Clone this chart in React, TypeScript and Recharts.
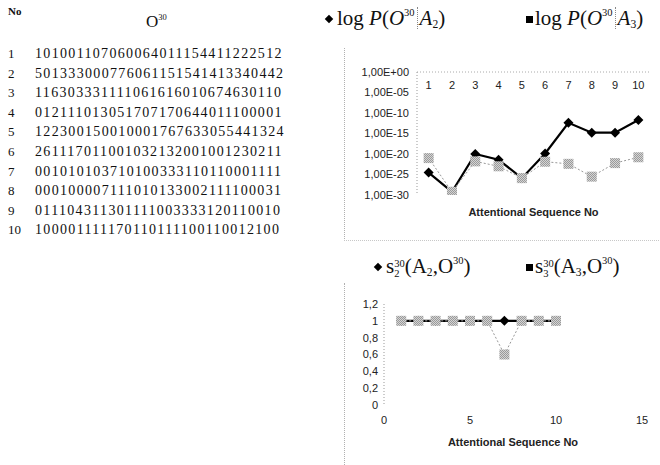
import React from 'react';
import { LineChart, Line, XAxis, YAxis } from 'recharts';

// observation sequences (left table)
const rowNo = [1, 2, 3, 4, 5, 6, 7, 8, 9, 10];
const observations = [
  '101001107060064011154411222512',
  '501333000776061151541413340442',
  '116303331111061616010674630110',
  '012111013051707170644011100001',
  '122300150010001767633055441324',
  '261117011001032132001001230211',
  '001010103710100333110110001111',
  '000100007111010133002111100031',
  '011104311301111003333120110010',
  '100001111170110111100110012100',
];

// top chart: P(O^30 | A2), P(O^30 | A3)
const seqNo = [1, 2, 3, 4, 5, 6, 7, 8, 9, 10];
const probA2 = [3e-25, 6e-30, 1e-20, 4e-22, 1.3e-26, 1.3e-20, 4e-13, 1.6e-15, 1.6e-15, 2e-12];
const probA3 = [1e-21, 6e-30, 1.6e-22, 1e-23, 1.3e-26, 1.3e-22, 4e-23, 3e-26, 6e-23, 1.6e-21];
const logTicks = [1, 1e-5, 1e-10, 1e-15, 1e-20, 1e-25, 1e-30];

// bottom chart: s2(A2,O^30), s3(A3,O^30)
const sA2 = [1, 1, 1, 1, 1, 1, 1, 1, 1, 1];
const sA3 = [1, 1, 1, 1, 1, 1, 0.6, 1, 1, 1];
const sTicks = [0, 0.2, 0.4, 0.6, 0.8, 1, 1.2];
const xTicks = [0, 5, 10, 15];

const probData = seqNo.map((n, i) => ({ n, a2: probA2[i], a3: probA3[i] }));
const sData = seqNo.map((n, i) => ({ n, a2: sA2[i], a3: sA3[i] }));

const axisFont = { fontFamily: 'Liberation Sans, Arial, sans-serif', fontSize: 11, fill: '#222' };
const serif = '"Liberation Serif", "Times New Roman", serif';

const fmtExp = (v: number) => {
  const e = Math.round(Math.log10(v));
  const sign = e >= 0 ? '+' : '-';
  return `1,00E${sign}${String(Math.abs(e)).padStart(2, '0')}`;
};

const Diamond = (props: any) => {
  const { cx, cy, index } = props;
  if (cx == null || cy == null) return <g key={`d${index}`} />;
  return (
    <polygon
      key={`d${index}`}
      points={`${cx},${cy - 5} ${cx + 5},${cy} ${cx},${cy + 5} ${cx - 5},${cy}`}
      fill="#000"
    />
  );
};

const makeSquare = (pid: string) => (props: any) => {
  const { cx, cy, index } = props;
  if (cx == null || cy == null) return <g key={`s${index}`} />;
  return <rect key={`s${index}`} x={cx - 5} y={cy - 5} width={10} height={10} fill={`url(#${pid})`} />;
};

const Checker = ({ id }: { id: string }) => (
  <defs>
    <pattern id={id} width={2} height={2} patternUnits="userSpaceOnUse">
      <rect width={2} height={2} fill="#d4d4d4" />
      <rect width={1} height={1} fill="#9a9a9a" />
      <rect x={1} y={1} width={1} height={1} fill="#9a9a9a" />
    </pattern>
  </defs>
);

const Sup = ({ t }: { t: string }) => (
  <span style={{ fontSize: '0.5em', verticalAlign: '0.85em', fontStyle: 'normal' }}>{t}</span>
);
const Sub = ({ t }: { t: string }) => (
  <span style={{ fontSize: '0.55em', verticalAlign: '-0.3em', fontStyle: 'normal' }}>{t}</span>
);
const Stack = ({ top, bottom }: { top: string; bottom: string }) => (
  <span style={{ display: 'inline-block', verticalAlign: '-0.35em', fontSize: '0.5em', lineHeight: '0.95em', textAlign: 'left' }}>
    <span style={{ display: 'block' }}>{top}</span>
    <span style={{ display: 'block' }}>{bottom}</span>
  </span>
);
const Bar = () => (
  <span style={{ display: 'inline-block', width: 0, height: '1.05em', borderLeft: '1px dotted #888', margin: '0 2px', verticalAlign: '-0.2em' }} />
);

const ProbLabel = ({ a }: { a: string }) => (
  <span>
    log <i>P</i>(<i>O</i>
    <Sup t="30" />
    <Bar />
    <i>A</i>
    <Sub t={a} />)
  </span>
);

const SLabel = ({ k }: { k: string }) => (
  <span>
    s<Stack top="30" bottom={k} />(A<Sub t={k} />,O<Sup t="30" />)
  </span>
);

const markDiamond = (
  <span style={{ display: 'inline-block', width: 6, height: 6, background: '#000', transform: 'rotate(45deg)', marginRight: 5, verticalAlign: '0.15em' }} />
);
const markSquare = (
  <span style={{ display: 'inline-block', width: 7, height: 7, background: '#000', marginRight: 2, verticalAlign: '0.1em' }} />
);

export default function App() {
  return (
    <div style={{ position: 'fixed', left: 0, top: 0, width: 660, height: 465, background: '#fff', overflow: 'hidden', color: '#111' }}>
      {/* table of observation sequences */}
      <div style={{ position: 'absolute', left: 8, top: 5, fontFamily: serif, fontSize: 11, fontWeight: 'bold' }}>No</div>
      <div style={{ position: 'absolute', left: 146, top: 12, fontFamily: serif, fontSize: 17 }}>
        O<Sup t="30" />
      </div>
      {observations.map((s, i) => (
        <React.Fragment key={i}>
          <div style={{ position: 'absolute', left: 8, top: 45 + i * 19.6, fontFamily: serif, fontSize: 13, lineHeight: '18px' }}>
            {rowNo[i]}
          </div>
          <div
            style={{ position: 'absolute', left: 35, top: 45 + i * 19.6, fontFamily: serif, fontSize: 14, lineHeight: '18px', letterSpacing: 1.33, whiteSpace: 'nowrap' }}
          >
            {s}
          </div>
        </React.Fragment>
      ))}

      {/* legend of top chart */}
      <div style={{ position: 'absolute', left: 326, top: 6, fontFamily: serif, fontSize: 21, whiteSpace: 'nowrap' }}>
        {markDiamond}
        <ProbLabel a="2" />
      </div>
      <div style={{ position: 'absolute', left: 526, top: 6, fontFamily: serif, fontSize: 21, whiteSpace: 'nowrap' }}>
        {markSquare}
        <ProbLabel a="3" />
      </div>

      {/* chart area borders */}
      <div style={{ position: 'absolute', left: 344, top: 48, width: 330, height: 192, borderLeft: '1px dotted #b0b0b0', borderBottom: '1px dotted #c8c8c8' }} />
      <div style={{ position: 'absolute', left: 344, top: 283, width: 1, height: 190, borderLeft: '1px dotted #b0b0b0' }} />

      <div style={{ position: 'absolute', left: 330, top: 40 }}>
        <LineChart width={330} height={210} data={probData} margin={{ top: 32, right: 10, bottom: 25, left: 17 }}>
          <Checker id="chk1" />
          <XAxis
            xAxisId="top"
            orientation="top"
            dataKey="n"
            type="number"
            domain={[0.5, 10.5]}
            ticks={seqNo}
            interval={0}
            height={1}
            mirror
            tickLine={false}
            tickMargin={3}
            axisLine={{ stroke: '#aaa', strokeDasharray: '1 2' }}
            tick={axisFont}
          />
          <XAxis
            xAxisId="lab"
            orientation="bottom"
            dataKey="n"
            type="number"
            domain={[0.5, 10.5]}
            height={30}
            tick={false}
            tickLine={false}
            axisLine={false}
            label={{ value: 'Attentional Sequence No', position: 'insideTop', offset: 13, style: { ...axisFont, fontWeight: 'bold' } }}
          />
          <YAxis
            scale="log"
            type="number"
            domain={[1e-30, 1]}
            ticks={logTicks}
            interval={0}
            allowDataOverflow
            width={70}
            tickLine={false}
            axisLine={{ stroke: '#999', strokeDasharray: '1 2' }}
            tickFormatter={fmtExp}
            tick={axisFont}
          />
          <Line xAxisId="top" dataKey="a2" stroke="#000" strokeWidth={2.2} dot={Diamond} isAnimationActive={false} />
          <Line
            xAxisId="top"
            dataKey="a3"
            stroke="#999"
            strokeWidth={1}
            strokeDasharray="2 2"
            dot={makeSquare('chk1')}
            isAnimationActive={false}
          />
        </LineChart>
      </div>

      {/* legend of bottom chart */}
      <div style={{ position: 'absolute', left: 375, top: 254, fontFamily: serif, fontSize: 21, whiteSpace: 'nowrap' }}>
        {markDiamond}
        <SLabel k="2" />
      </div>
      <div style={{ position: 'absolute', left: 526, top: 254, fontFamily: serif, fontSize: 21, whiteSpace: 'nowrap' }}>
        {markSquare}
        <SLabel k="3" />
      </div>

      <div style={{ position: 'absolute', left: 330, top: 280 }}>
        <LineChart width={330} height={185} data={sData} margin={{ top: 24, right: 18, bottom: 10, left: 14 }}>
          <Checker id="chk2" />
          <XAxis
            dataKey="n"
            type="number"
            domain={[0, 15]}
            ticks={xTicks}
            interval={0}
            height={50}
            tickLine={false}
            tickSize={6}
            tickMargin={5}
            axisLine={false}
            tick={axisFont}
            label={{ value: 'Attentional Sequence No', position: 'insideTop', offset: 33, style: { ...axisFont, fontWeight: 'bold' } }}
          />
          <YAxis
            type="number"
            domain={[0, 1.2]}
            ticks={sTicks}
            interval={0}
            width={40}
            tickLine={false}
            tickSize={4}
            tickMargin={2}
            axisLine={{ stroke: '#999', strokeDasharray: '1 2' }}
            tickFormatter={(v: number) => String(Math.round(v * 10) / 10).replace('.', ',')}
            tick={axisFont}
          />
          <Line dataKey="a2" stroke="#000" strokeWidth={2.2} dot={Diamond} isAnimationActive={false} />
          <Line
            dataKey="a3"
            stroke="#999"
            strokeWidth={1}
            strokeDasharray="2 2"
            dot={makeSquare('chk2')}
            isAnimationActive={false}
          />
        </LineChart>
      </div>
    </div>
  );
}
